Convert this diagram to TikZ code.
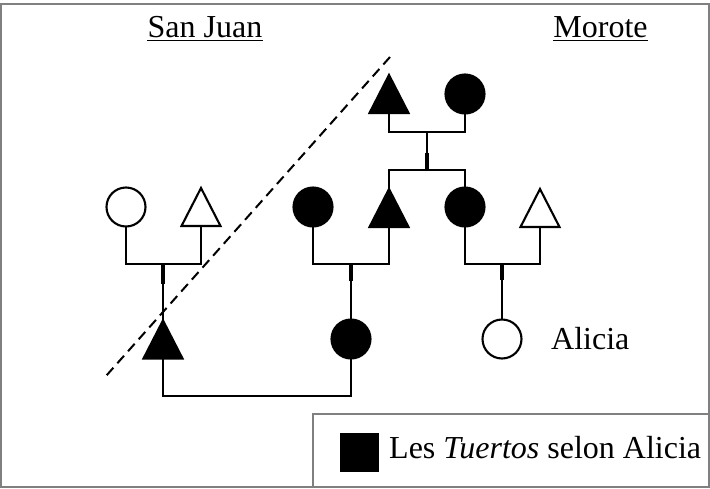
\documentclass[tikz,border=0pt]{standalone}
\usepackage{fontspec}
\setmainfont{Liberation Serif}
\begin{document}
\begin{tikzpicture}[x=1pt,y=-1pt,
  ln/.style={line width=2.1pt, line join=miter},
  thk/.style={line width=4.4pt},
  circ/.style={circle, draw, line width=2.1pt, minimum size=39pt, inner sep=0pt, outer sep=0pt},
  fcirc/.style={circ, fill=black},
  tri/.style={rectangle, minimum width=39pt, minimum height=38pt, inner sep=0pt, outer sep=0pt},
  txt/.style={inner sep=0pt, font=\fontsize{32}{38}\selectfont},
  frame/.style={draw=gray, line width=1.6pt}
]
\useasboundingbox (0,0) rectangle (710,488);
\draw[frame] (1,4) rectangle (709,487);

% titles
\node[txt, anchor=base] (sj) at (205,37) {San Juan};
\node[txt, anchor=base] (mo) at (600.5,37) {Morote};
\draw[line width=1.6pt] ([yshift=-3.5pt]sj.base west) -- ([yshift=-3.5pt]sj.base east);
\draw[line width=1.6pt] ([yshift=-3.5pt]mo.base west) -- ([yshift=-3.5pt]mo.base east);

% dashed line
\draw[line width=2pt, dash pattern=on 10pt off 6pt] (390,57) -- (106,376);

% individuals
\node[tri] (T1) at (389,94) {};
\node[fcirc] (C1) at (465,94) {};
\node[circ] (Ca) at (126,207) {};
\node[tri] (Ta) at (201,207) {};
\node[fcirc] (C2) at (313,207) {};
\node[tri] (T2) at (389,208) {};
\node[fcirc] (C3) at (465,207) {};
\node[tri] (T3) at (540,208) {};
\node[tri] (T4) at (163,339.5) {};
\node[fcirc] (C4) at (351,339) {};
\node[circ] (C5) at (502,339) {};

\foreach \n in {T1,T2,T4}
  \draw[ln, fill=black] (\n.south west) -- (\n.north) -- (\n.south east) -- cycle;
\foreach \n in {Ta,T3}
  \draw[ln, fill=white] (\n.south west) -- (\n.north) -- (\n.south east) -- cycle;

% junction coordinates
\coordinate (a1) at (427,132);
\coordinate (a2) at (427,170);
\coordinate (a2t) at (427,153);
\coordinate (d1) at (163,264);
\coordinate (d1t) at (163,284);
\coordinate (d2) at (351,264);
\coordinate (d2t) at (351,281);
\coordinate (d3) at (502,264);
\coordinate (d3t) at (502,280);
\coordinate (m) at (257,396);

% top couple
\draw[ln] (T1.south) |- (a1) -| (C1.south);
\draw[ln] (a1) -- (a2);
\draw[thk] (a2t) -- (a2);
\draw[ln] (T2.north) |- (a2) -| (C3.north);

% second row couples
\draw[ln] (Ca.south) |- (d1) -| (Ta.south);
\draw[ln] (d1) -- (T4.north);
\draw[thk] (d1) -- (d1t);

\draw[ln] (C2.south) |- (d2) -| (T2.south);
\draw[ln] (d2) -- (C4.north);
\draw[thk] (d2) -- (d2t);

\draw[ln] (C3.south) |- (d3) -| (T3.south);
\draw[ln] (d3) -- (C5.north);
\draw[thk] (d3) -- (d3t);

% marriage
\draw[ln] (T4.south) |- (m) -| (C4.south);

\node[txt, anchor=base west] (al) at (551,349) {Alicia};

% legend
\draw[frame] (313,414) rectangle (709,487);
\node[fill=black, minimum size=39pt, inner sep=0pt] (sq) at (359.5,452.5) {};
\node[txt, anchor=base west] (lg) at (389,458) {Les \textit{Tuertos} selon Alicia};
\end{tikzpicture}
\end{document}
